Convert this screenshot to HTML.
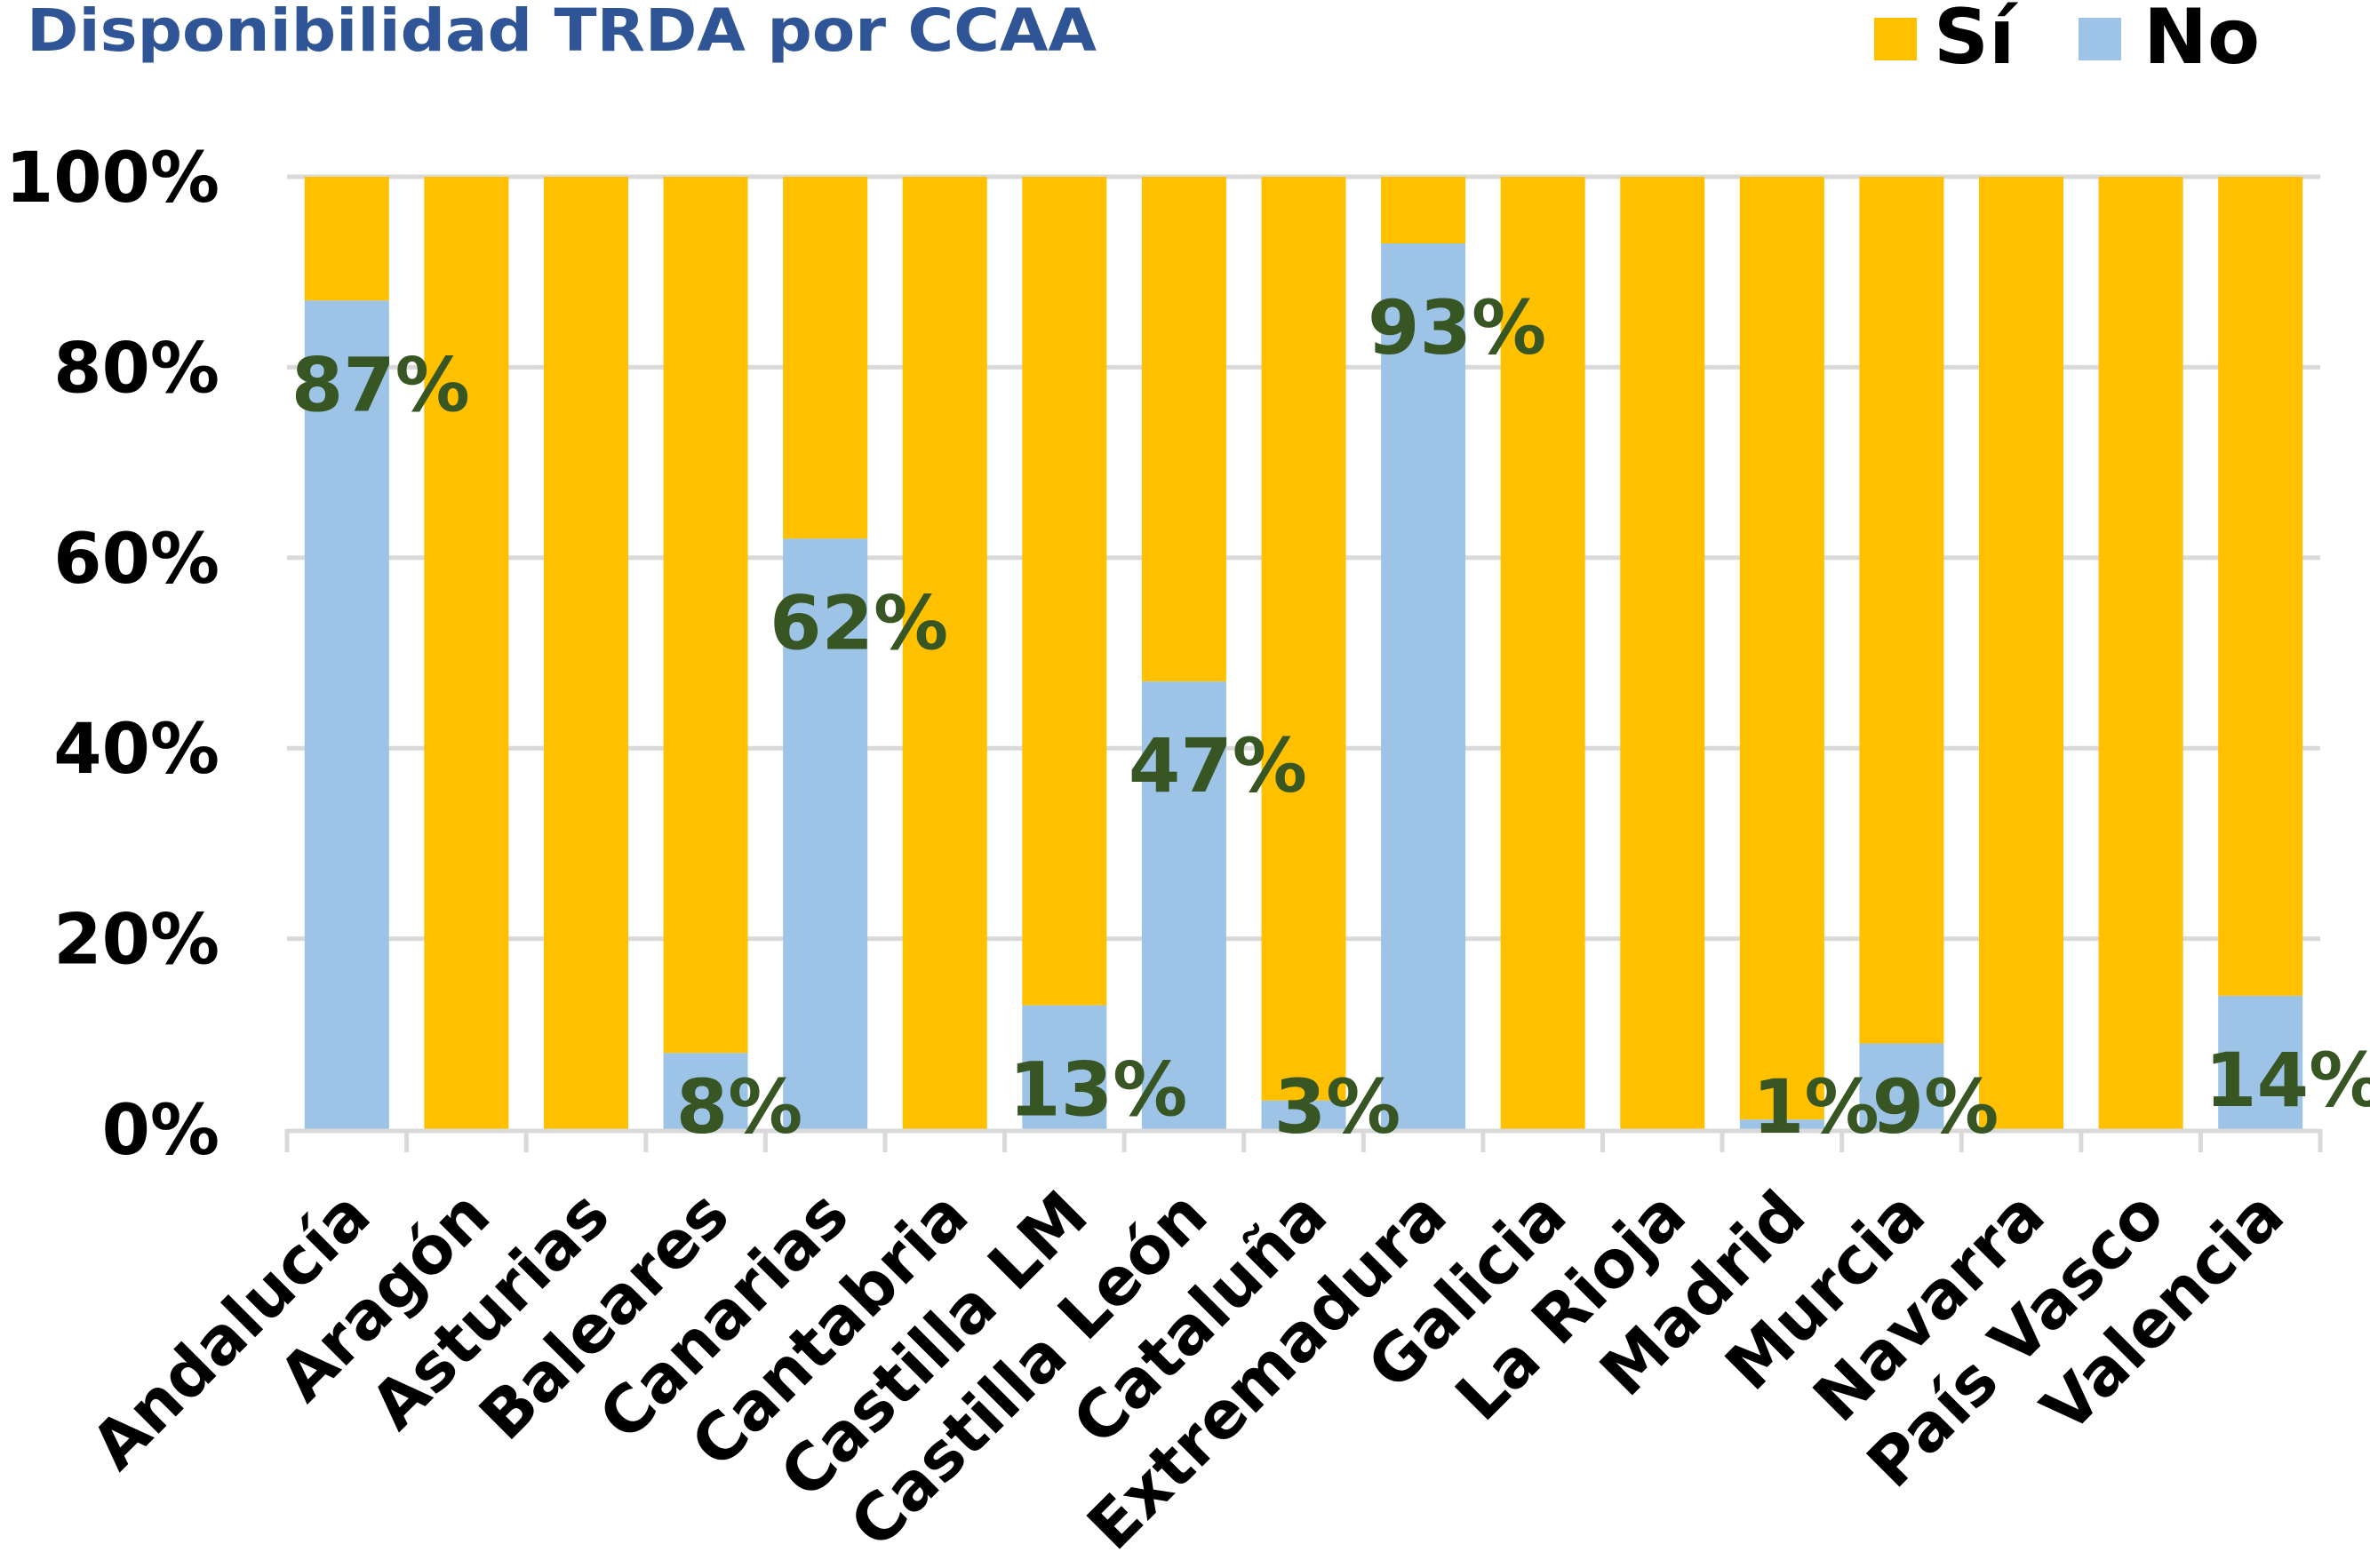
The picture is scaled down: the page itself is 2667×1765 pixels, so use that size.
<!DOCTYPE html>
<html><head><meta charset="utf-8"><style>
html,body{margin:0;padding:0;background:#fff;}
svg{display:block;font-family:"DejaVu Sans","Liberation Sans",sans-serif;font-weight:bold;}
</style></head><body>
<svg id="chart" width="2667" height="1765" viewBox="0 0 2667 1765" xmlns="http://www.w3.org/2000/svg">
<text x="30" y="57" font-size="66" fill="#2F5597" textLength="1204" lengthAdjust="spacingAndGlyphs">Disponibilidad TRDA por CCAA</text>
<g>
<rect x="2109" y="20" width="48" height="48" fill="#FFC000"/>
<text x="2176" y="71" font-size="86" fill="#000">Sí</text>
<rect x="2339" y="20" width="48" height="48" fill="#9DC3E6"/>
<text x="2412" y="71" font-size="86" fill="#000">No</text>
</g>
<g id="grid"></g><g id="bars"></g><g id="axis"></g><g id="labels"></g>
</svg>
<script>
const categories=["Andalucía","Aragón","Asturias","Baleares","Canarias","Cantabria","Castilla LM","Castilla León","Cataluña","Extremadura","Galicia","La Rioja","Madrid","Murcia","Navarra","País Vasco","Valencia"];
const noValues=[87,0,0,8,62,0,13,47,3,93,0,0,1,9,0,0,14];
const yTicks=[0,20,40,60,80,100];
const tickLabels=["0%","20%","40%","60%","80%","100%"];

const NS="http://www.w3.org/2000/svg";
const X0=323,X1=2611,Y0=1271,Y100=199;
const bw=(X1-X0)/categories.length, barW=95;
const yS=v=>Y0-(v/100)*(Y0-Y100);
const xS=i=>X0+i*bw;
function mk(tag,attrs,parent){const e=document.createElementNS(NS,tag);for(const k in attrs)e.setAttribute(k,attrs[k]);parent.appendChild(e);return e;}
const grid=document.getElementById('grid'),bars=document.getElementById('bars'),axis=document.getElementById('axis'),labels=document.getElementById('labels');

yTicks.forEach((t,i)=>{
  if(t>0){const l=mk('line',{x1:X0,x2:X1,y1:yS(t),y2:yS(t),stroke:'#D9D9D9','stroke-width':5},grid);
  
  }
  const tx=mk('text',{x:247,y:yS(t)+28,'font-size':78,'text-anchor':'end',fill:'#000'},axis);
  tx.textContent=tickLabels[i];
  
  
});
const ax=mk('line',{x1:X0,x2:X1,y1:Y0+2,y2:Y0+2,stroke:'#D9D9D9','stroke-width':5},axis);


for(let i=0;i<=categories.length;i++){
  const tk=mk('line',{x1:xS(i),x2:xS(i),y1:Y0,y2:1297,stroke:'#D9D9D9','stroke-width':5},axis);
  
  
}
categories.forEach((c,i)=>{
  const bx=xS(i)+(bw-barW)/2, cx=bx+barW/2, v=noValues[i];
  const si=mk('rect',{x:bx,y:yS(100),width:barW,height:yS(v)-yS(100),fill:'#FFC000'},bars);
  
  
  if(v>0){
    const no=mk('rect',{x:bx,y:yS(v),width:barW,height:Y0-yS(v),fill:'#9DC3E6'},bars);
    
    
    const ly=Math.min(yS(v)+94,1245);
    const t=mk('text',{x:cx+38,y:ly+30,'font-size':84,'text-anchor':'middle',fill:'#375623'},labels);
    t.textContent=v+'%';
    
    
  }
  const ct=mk('text',{x:cx+30,y:1372,'font-size':73,'text-anchor':'end',fill:'#000',transform:`rotate(-45 ${cx+30} 1372)`},axis);
  ct.textContent=c;
  
  
});
</script>
</body></html>
